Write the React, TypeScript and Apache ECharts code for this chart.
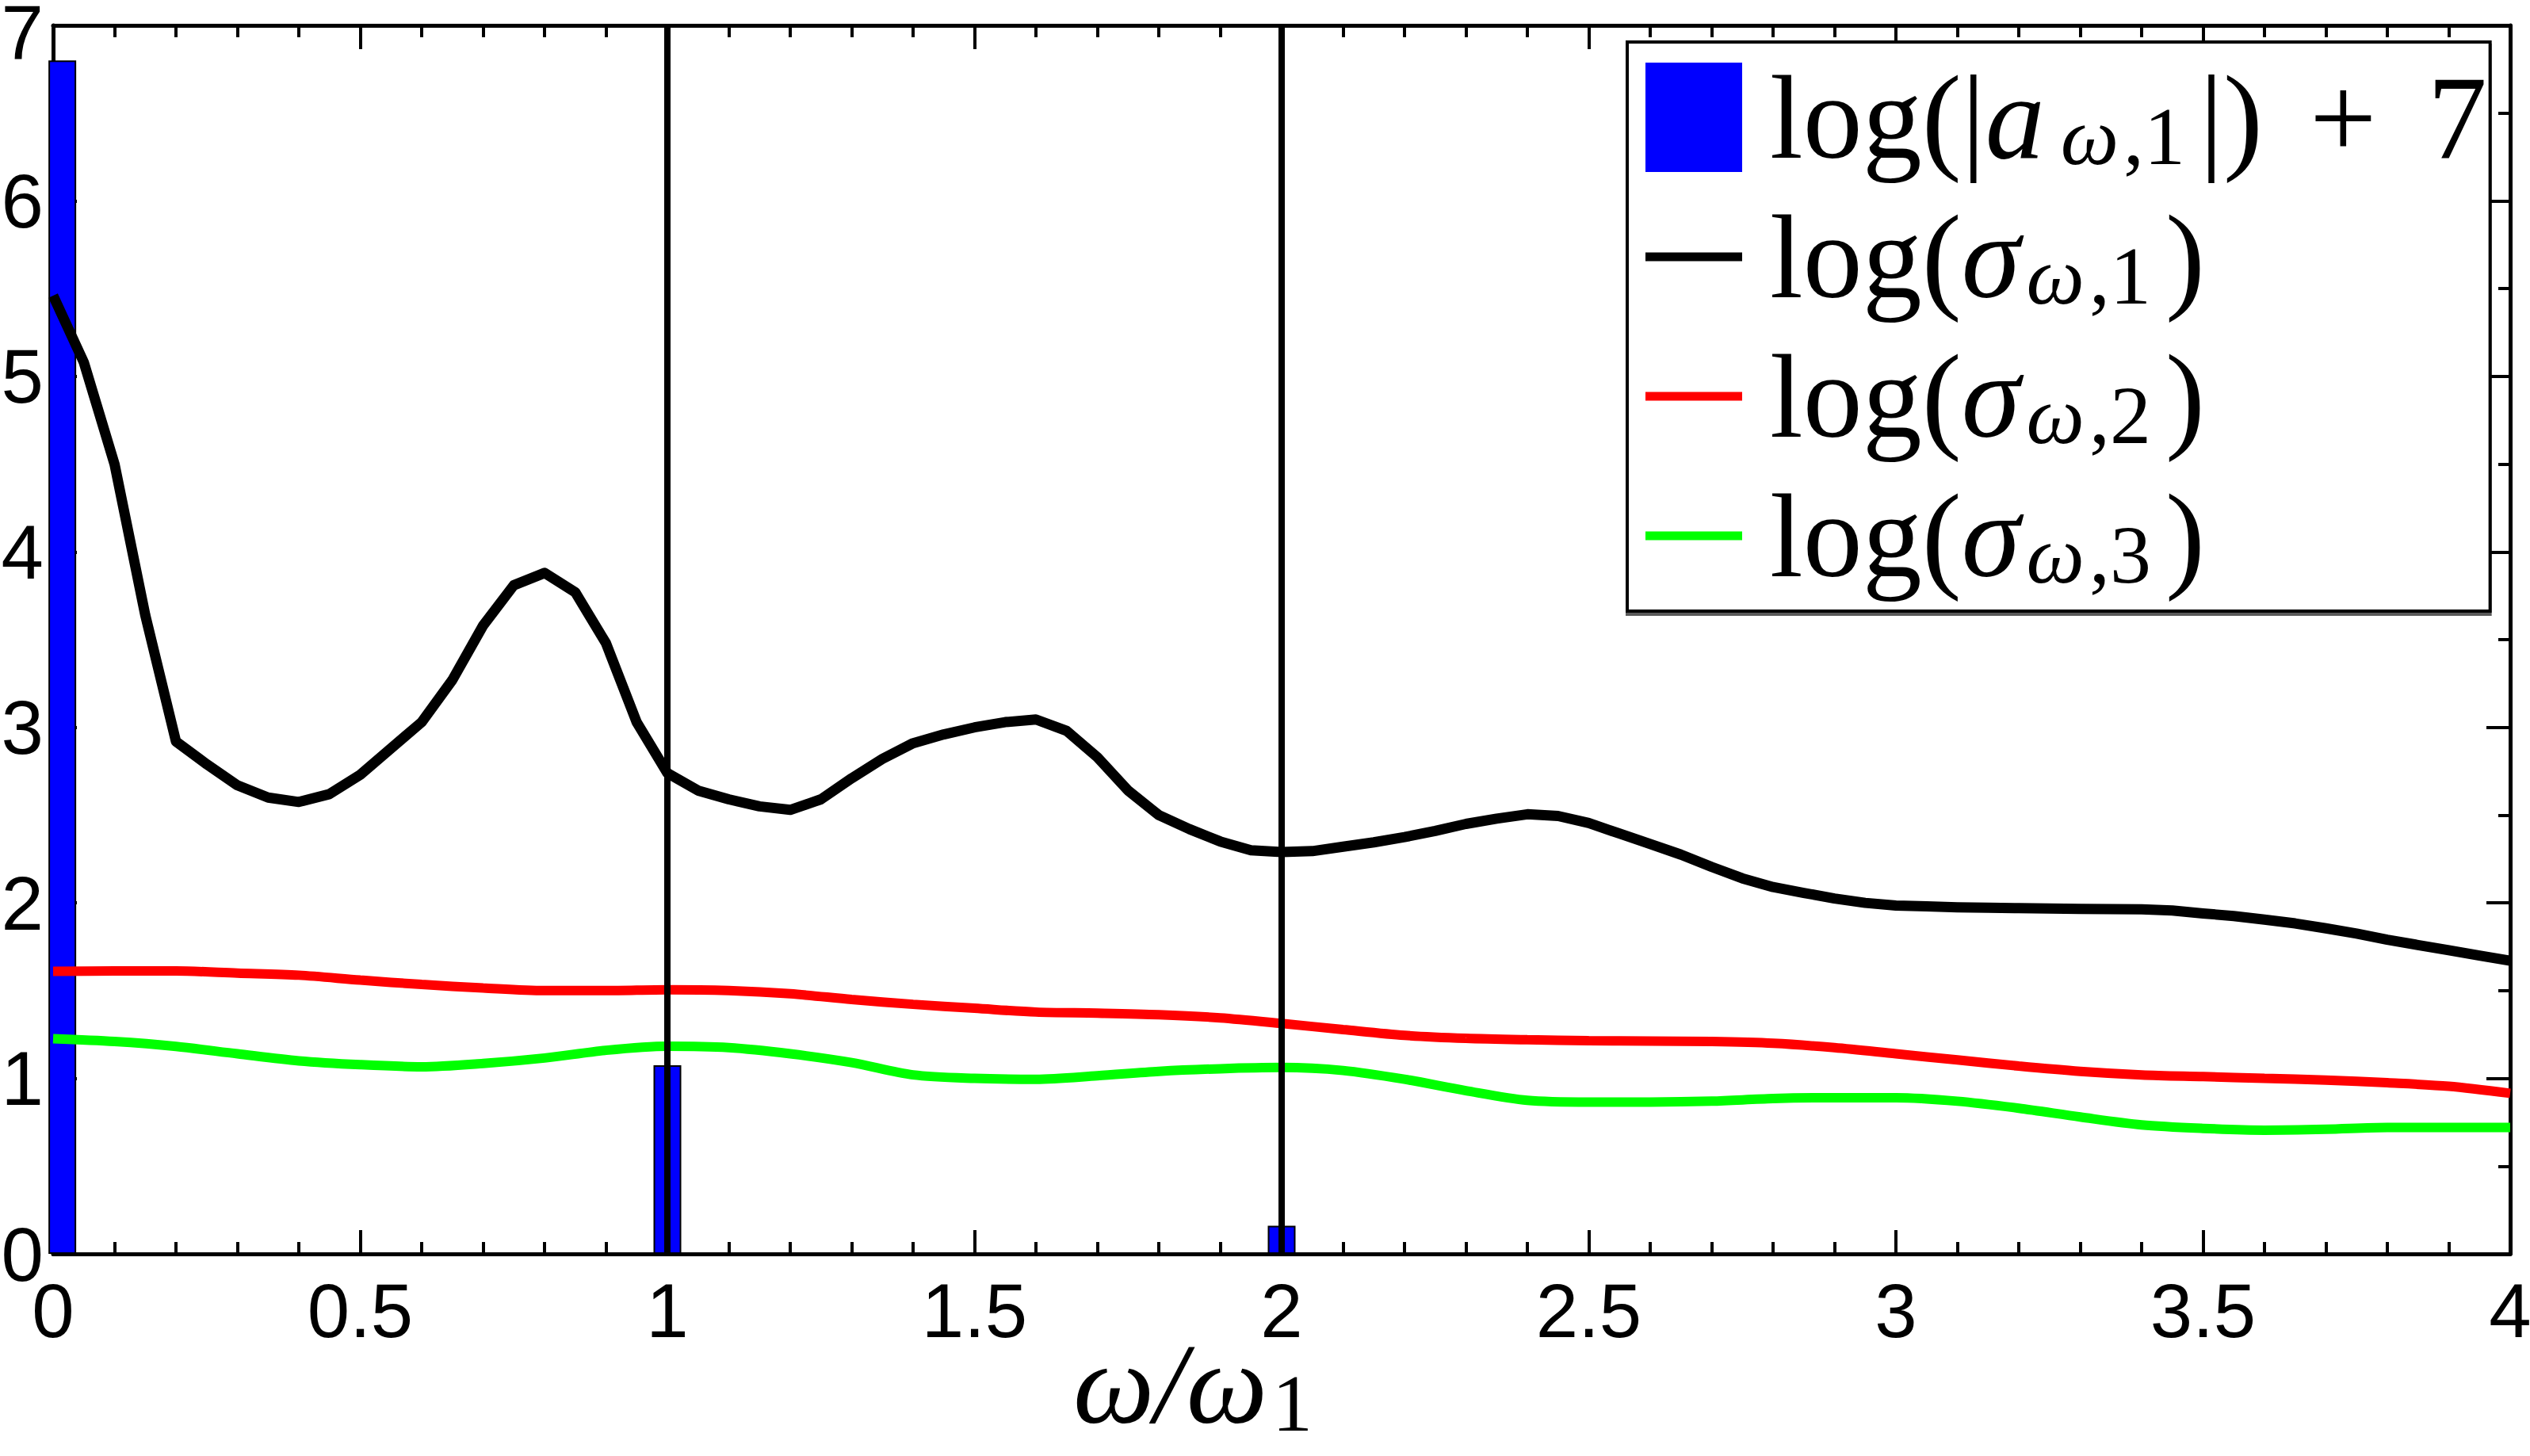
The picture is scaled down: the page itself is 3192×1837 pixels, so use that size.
import React, { useEffect, useRef } from "react";
import * as echarts from "echarts";

// ---- data ----
const barOmega = [0.015, 1, 2];
const barValues = [6.8, 1.075, 0.16];

const sigma1Omega = [
  0, 0.05, 0.1, 0.15, 0.2, 0.25, 0.3, 0.35, 0.4, 0.45,
  0.5, 0.55, 0.6, 0.65, 0.7, 0.75, 0.8, 0.85, 0.9, 0.95,
  1, 1.05, 1.1, 1.15, 1.2, 1.25, 1.3, 1.35, 1.4, 1.45,
  1.5, 1.55, 1.6, 1.65, 1.7, 1.75, 1.8, 1.85, 1.9, 1.95,
  2, 2.05, 2.1, 2.15, 2.2, 2.25, 2.3, 2.35, 2.4, 2.45,
  2.5, 2.55, 2.6, 2.65, 2.7, 2.75, 2.8, 2.85, 2.9, 2.95,
  3, 3.05, 3.1, 3.15, 3.2, 3.25, 3.3, 3.35, 3.4, 3.45,
  3.5, 3.55, 3.6, 3.65, 3.7, 3.75, 3.8, 3.85, 3.9, 3.95, 4,
];
const sigma1Values = [
  5.46, 5.08, 4.5, 3.64, 2.92, 2.79, 2.67, 2.6, 2.575, 2.62,
  2.73, 2.88, 3.03, 3.27, 3.58, 3.81, 3.88, 3.77, 3.48, 3.03,
  2.74, 2.64, 2.59, 2.55, 2.53, 2.59, 2.71, 2.82, 2.91, 2.96,
  3.0, 3.03, 3.045, 2.98, 2.83, 2.64, 2.5, 2.42, 2.35, 2.3,
  2.29, 2.295, 2.32, 2.345, 2.375, 2.41, 2.45, 2.48, 2.505, 2.495,
  2.455, 2.395, 2.335, 2.275, 2.205, 2.14, 2.09, 2.057, 2.025, 2.0,
  1.985, 1.98, 1.975, 1.972, 1.97, 1.968, 1.966, 1.965, 1.963, 1.957,
  1.94, 1.925, 1.905, 1.883, 1.855, 1.825, 1.79, 1.76, 1.73, 1.7, 1.67,
];

const sigma23Omega = [
  0, 0.1, 0.2, 0.3, 0.4, 0.5, 0.6, 0.7, 0.8, 0.9,
  1, 1.1, 1.2, 1.3, 1.4, 1.5, 1.6, 1.7, 1.8, 1.9,
  2, 2.1, 2.2, 2.3, 2.4, 2.5, 2.6, 2.7, 2.8, 2.9,
  3, 3.1, 3.2, 3.3, 3.4, 3.5, 3.6, 3.7, 3.8, 3.9, 4,
];
const sigma2Values = [
  1.61, 1.612, 1.612, 1.6, 1.588, 1.56, 1.535, 1.515, 1.5, 1.5,
  1.505, 1.5, 1.482, 1.45, 1.422, 1.4, 1.378, 1.372, 1.363, 1.345,
  1.313, 1.278, 1.245, 1.228, 1.22, 1.215, 1.213, 1.21, 1.2, 1.175,
  1.14, 1.105, 1.07, 1.04, 1.02, 1.01, 1.0, 0.99, 0.975, 0.955, 0.915,
];
const sigma3Values = [
  1.226, 1.21, 1.182, 1.14, 1.1, 1.078, 1.066, 1.085, 1.116, 1.16,
  1.183, 1.175, 1.14, 1.09, 1.02, 1.0, 0.995, 1.015, 1.04, 1.055,
  1.062, 1.045, 0.995, 0.93, 0.875, 0.865, 0.865, 0.87, 0.885, 0.89,
  0.89, 0.87, 0.83, 0.78, 0.735, 0.715, 0.705, 0.71, 0.72, 0.72, 0.72,
];

const harmonicMarks = [1, 2];

const seriesNames = ["log(|aω,1|) + 7", "log(σω,1)", "log(σω,2)", "log(σω,3)"];
const legendRich = [
  "{lt|log(|}{ia|a}{sw|ω}{sn|,1}{br||)}{op|+}{t|7}",
  "{lt|log(}{i|σ}{sw|ω}{sn|,1}{br|)}",
  "{lt|log(}{i|σ}{sw|ω}{sn|,2}{br|)}",
  "{lt|log(}{i|σ}{sw|ω}{sn|,3}{br|)}",
];
const seriesColors = ["#0000ff", "#000000", "#ff0000", "#00ff00"];
const xTitleRich = "{m|ω/ω}{s|1}";

const xRange = [0, 4];
const yRange = [0, 7];

const zip = (xs: number[], ys: number[]) => xs.map((x, i) => [x, ys[i]]);

const serif = "'Liberation Serif', 'Times New Roman', serif";
const sans = "'Liberation Sans', Arial, Helvetica, sans-serif";

const axisStyle = {
  axisLine: { show: true, onZero: false, lineStyle: { color: "#000", width: 5 } },
  axisTick: { show: true, inside: true, length: 30, lineStyle: { color: "#000", width: 4 } },
  minorTick: { show: true, length: 15, lineStyle: { color: "#000", width: 4 } },
  splitLine: { show: false },
  minorSplitLine: { show: false },
};

const mainTok = { fontFamily: serif, fontSize: 150, lineHeight: 150, color: "#000", verticalAlign: "middle" };
const subTok = { fontFamily: serif, fontSize: 104, lineHeight: 76, color: "#000", verticalAlign: "bottom" };

function buildOption() {
  return {
    animation: false,
    backgroundColor: "#ffffff",
    grid: { left: 67, right: 25, top: 32, bottom: 255, containLabel: false, outerBoundsMode: "none" },
    xAxis: [
      {
        type: "value",
        position: "bottom",
        min: xRange[0],
        max: xRange[1],
        interval: 0.5,
        ...axisStyle,
        minorTick: { ...axisStyle.minorTick, splitNumber: 5 },
        axisLabel: { show: true, fontSize: 96, fontFamily: sans, color: "#000", margin: 23 },
      },
      {
        type: "value",
        position: "top",
        min: xRange[0],
        max: xRange[1],
        interval: 0.5,
        ...axisStyle,
        minorTick: { ...axisStyle.minorTick, splitNumber: 5 },
        axisLabel: { show: false },
      },
    ],
    yAxis: [
      {
        type: "value",
        position: "left",
        min: yRange[0],
        max: yRange[1],
        interval: 1,
        ...axisStyle,
        minorTick: { ...axisStyle.minorTick, splitNumber: 2 },
        axisLabel: {
          show: true,
          fontSize: 96,
          fontFamily: sans,
          color: "#000",
          margin: 12,
          formatter: (v: number) => (v === yRange[1] ? "{top|" + v + "}" : String(v)),
          rich: {
            top: { fontSize: 96, fontFamily: sans, color: "#000", padding: [16, 0, 0, 0] },
          },
        },
      },
      {
        type: "value",
        position: "right",
        min: yRange[0],
        max: yRange[1],
        interval: 1,
        ...axisStyle,
        minorTick: { ...axisStyle.minorTick, splitNumber: 2 },
        axisLabel: { show: false },
      },
    ],
    graphic: [
      {
        type: "text",
        x: 1505,
        y: 1671,
        silent: true,
        style: {
          text: xTitleRich,
          align: "center",
          verticalAlign: "top",
          rich: {
            m: { fontFamily: serif, fontStyle: "italic", fontSize: 145, lineHeight: 150, fill: "#000", color: "#000", verticalAlign: "middle" },
            s: { fontFamily: serif, fontSize: 102, lineHeight: 76, fill: "#000", color: "#000", verticalAlign: "bottom", padding: [0, 0, 0, 6] },
          },
        },
      },
    ],
    legend: {
      orient: "vertical",
      left: 2053,
      top: 53,
      padding: [20, 4, 20, 23],
      itemGap: 26,
      itemWidth: 122,
      itemHeight: 138,
      selectedMode: false,
      backgroundColor: "#ffffff",
      borderColor: "#000",
      borderWidth: 4,
      borderRadius: 0,
      shadowColor: "rgba(0,0,0,0.65)",
      shadowOffsetY: 4,
      shadowBlur: 0,
      itemStyle: { borderWidth: 0 },
      data: seriesNames.map((n, i) => ({
        name: n,
        icon: i === 0 ? "rect" : "path://M0 0H122V11H0Z",
      })),
      formatter: (name: string) => legendRich[seriesNames.indexOf(name)],
      textStyle: {
        color: "#000",
        fontFamily: serif,
        fontSize: 150,
        rich: {
          lt: { ...mainTok, padding: [0, 0, 0, 30] },
          t: { ...mainTok },
          i: { ...mainTok, fontStyle: "italic" },
          ia: { ...mainTok, fontStyle: "italic", padding: [0, 12, 0, 0] },
          br: { ...mainTok, padding: [0, 0, 0, 8] },
          op: { ...mainTok, padding: [0, 64, 0, 59] },
          sw: { ...subTok, fontStyle: "italic", padding: [0, 0, 0, 8] },
          sn: { ...subTok, padding: [0, 10, 0, 6] },
        },
      },
    },
    series: [
      {
        name: seriesNames[0],
        type: "bar",
        xAxisIndex: 0,
        yAxisIndex: 0,
        barWidth: 35,
        data: zip(barOmega, barValues),
        itemStyle: { color: seriesColors[0], borderColor: "#000", borderWidth: 2 },
        emphasis: { disabled: true },
      },
      {
        name: seriesNames[1],
        type: "line",
        xAxisIndex: 0,
        yAxisIndex: 0,
        symbol: "none",
        data: zip(sigma1Omega, sigma1Values),
        lineStyle: { color: seriesColors[1], width: 13, join: "round" },
        itemStyle: { color: seriesColors[1] },
        emphasis: { disabled: true },
      },
      {
        name: seriesNames[2],
        type: "line",
        xAxisIndex: 0,
        yAxisIndex: 0,
        symbol: "none",
        smooth: 0.3,
        data: zip(sigma23Omega, sigma2Values),
        lineStyle: { color: seriesColors[2], width: 12 },
        itemStyle: { color: seriesColors[2] },
        emphasis: { disabled: true },
      },
      {
        name: seriesNames[3],
        type: "line",
        xAxisIndex: 0,
        yAxisIndex: 0,
        symbol: "none",
        smooth: 0.3,
        data: zip(sigma23Omega, sigma3Values),
        lineStyle: { color: seriesColors[3], width: 12 },
        itemStyle: { color: seriesColors[3] },
        emphasis: { disabled: true },
        markLine: {
          silent: true,
          symbol: ["none", "none"],
          label: { show: false },
          lineStyle: { color: "#000", width: 8, type: "solid" },
          emphasis: { disabled: true },
          data: harmonicMarks.map((v) => ({ xAxis: v })),
        },
      },
    ],
  };
}

export default function App() {
  const ref = useRef<HTMLDivElement>(null);
  useEffect(() => {
    document.body.style.margin = "0";
    const chart = echarts.init(ref.current as HTMLDivElement, null, { renderer: "svg" });
    chart.setOption(buildOption() as any);
    return () => chart.dispose();
  }, []);
  return (
    <div
      ref={ref}
      style={{ position: "absolute", left: 0, top: 0, width: 3192, height: 1837, background: "#fff" }}
    />
  );
}
